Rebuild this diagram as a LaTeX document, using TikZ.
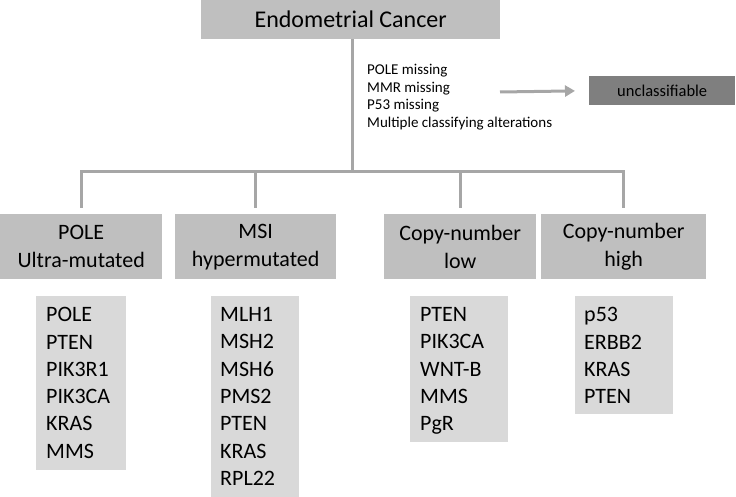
\documentclass[tikz,border=0pt]{standalone}
\usepackage{fontspec}
\setmainfont{Carlito}
\usetikzlibrary{arrows.meta}
\definecolor{boxgray}{HTML}{BFBFBF}
\definecolor{genegray}{HTML}{D9D9D9}
\definecolor{darkbox}{HTML}{7F7F7F}
\definecolor{linegray}{HTML}{A6A6A6}
\tikzset{
  topbox/.style={fill=boxgray, minimum width=299pt, minimum height=39pt, inner sep=0pt, anchor=north west, font=\fontsize{24}{28}\selectfont},
  catbox/.style={fill=boxgray, minimum height=65pt, inner sep=0pt, anchor=north west, align=center, font=\fontsize{22}{28}\selectfont},
  genebox/.style={fill=genegray, inner sep=0pt, anchor=north west},
  genetext/.style={inner sep=0pt, anchor=north west, align=left, font=\fontsize{22}{27.3}\selectfont},
  notetext/.style={inner sep=0pt, anchor=north west, align=left, font=\fontsize{15}{17.6}\selectfont},
  darkboxstyle/.style={fill=darkbox, minimum width=146pt, minimum height=29pt, inner sep=0pt, anchor=north west, font=\fontsize{16.5}{20}\selectfont},
  tree/.style={draw=linegray, line width=3pt, line join=miter},
  grayarrow/.style={draw=linegray, line width=3pt, -{Triangle[length=10pt,width=11pt]}, shorten >=14pt}
}
\begin{document}
\begin{tikzpicture}[x=1pt,y=-1pt]
\useasboundingbox (0,0) rectangle (736,497);
% top box
\node[topbox] (ec) at (201,0) {Endometrial Cancer};
% notes and unclassifiable
\node[notetext] (notes) at (367,64) {POLE missing\\MMR missing\\P53 missing\\Multiple classifying alterations};
\node[darkboxstyle] (uncl) at (589,76) {unclassifiable};
\coordinate (a0) at (500,92);
\draw[grayarrow] (a0) -- (uncl.west);
% category boxes
\node[catbox, minimum width=162pt] (c1) at (0,214) {POLE\\Ultra-mutated};
\node[catbox, minimum width=161pt] (c2) at (175,214) {MSI\\hypermutated};
\node[catbox, minimum width=152pt] (c3) at (384,214) {Copy-number\\low};
\node[catbox, minimum width=165pt] (c4) at (541,214) {Copy-number\\high};
% tree connectors
\coordinate (bus) at (352,172);
\coordinate (t1) at ([yshift=6pt]c1.north);
\coordinate (t2) at ([yshift=6pt]c2.north);
\coordinate (t3) at ([yshift=6pt]c3.north);
\coordinate (t4) at ([yshift=6pt]c4.north);
\draw[tree] (bus |- ec.south) -- (bus);
\draw[tree] (t1) -- (t1 |- bus) -- (t4 |- bus) -- (t4);
\draw[tree] (t2 |- bus) -- (t2);
\draw[tree] (t3 |- bus) -- (t3);
% gene boxes
\node[genebox, minimum width=90pt, minimum height=174pt] (g1) at (36,296) {};
\node[genebox, minimum width=88pt, minimum height=201pt] (g2) at (211,296) {};
\node[genebox, minimum width=98pt, minimum height=146pt] (g3) at (410,296) {};
\node[genebox, minimum width=98pt, minimum height=118pt] (g4) at (575,296) {};
\node[genetext] (l1) at (46,307.3) {POLE\\PTEN\\PIK3R1\\PIK3CA\\KRAS\\MMS};
\node[genetext] (l2) at (220,307.3) {MLH1\\MSH2\\MSH6\\PMS2\\PTEN\\KRAS\\RPL22};
\node[genetext] (l3) at (420,307.3) {PTEN\\PIK3CA\\WNT-B\\MMS\\PgR};
\node[genetext] (l4) at (584,307.3) {p53\\ERBB2\\KRAS\\PTEN};
\end{tikzpicture}
\end{document}
